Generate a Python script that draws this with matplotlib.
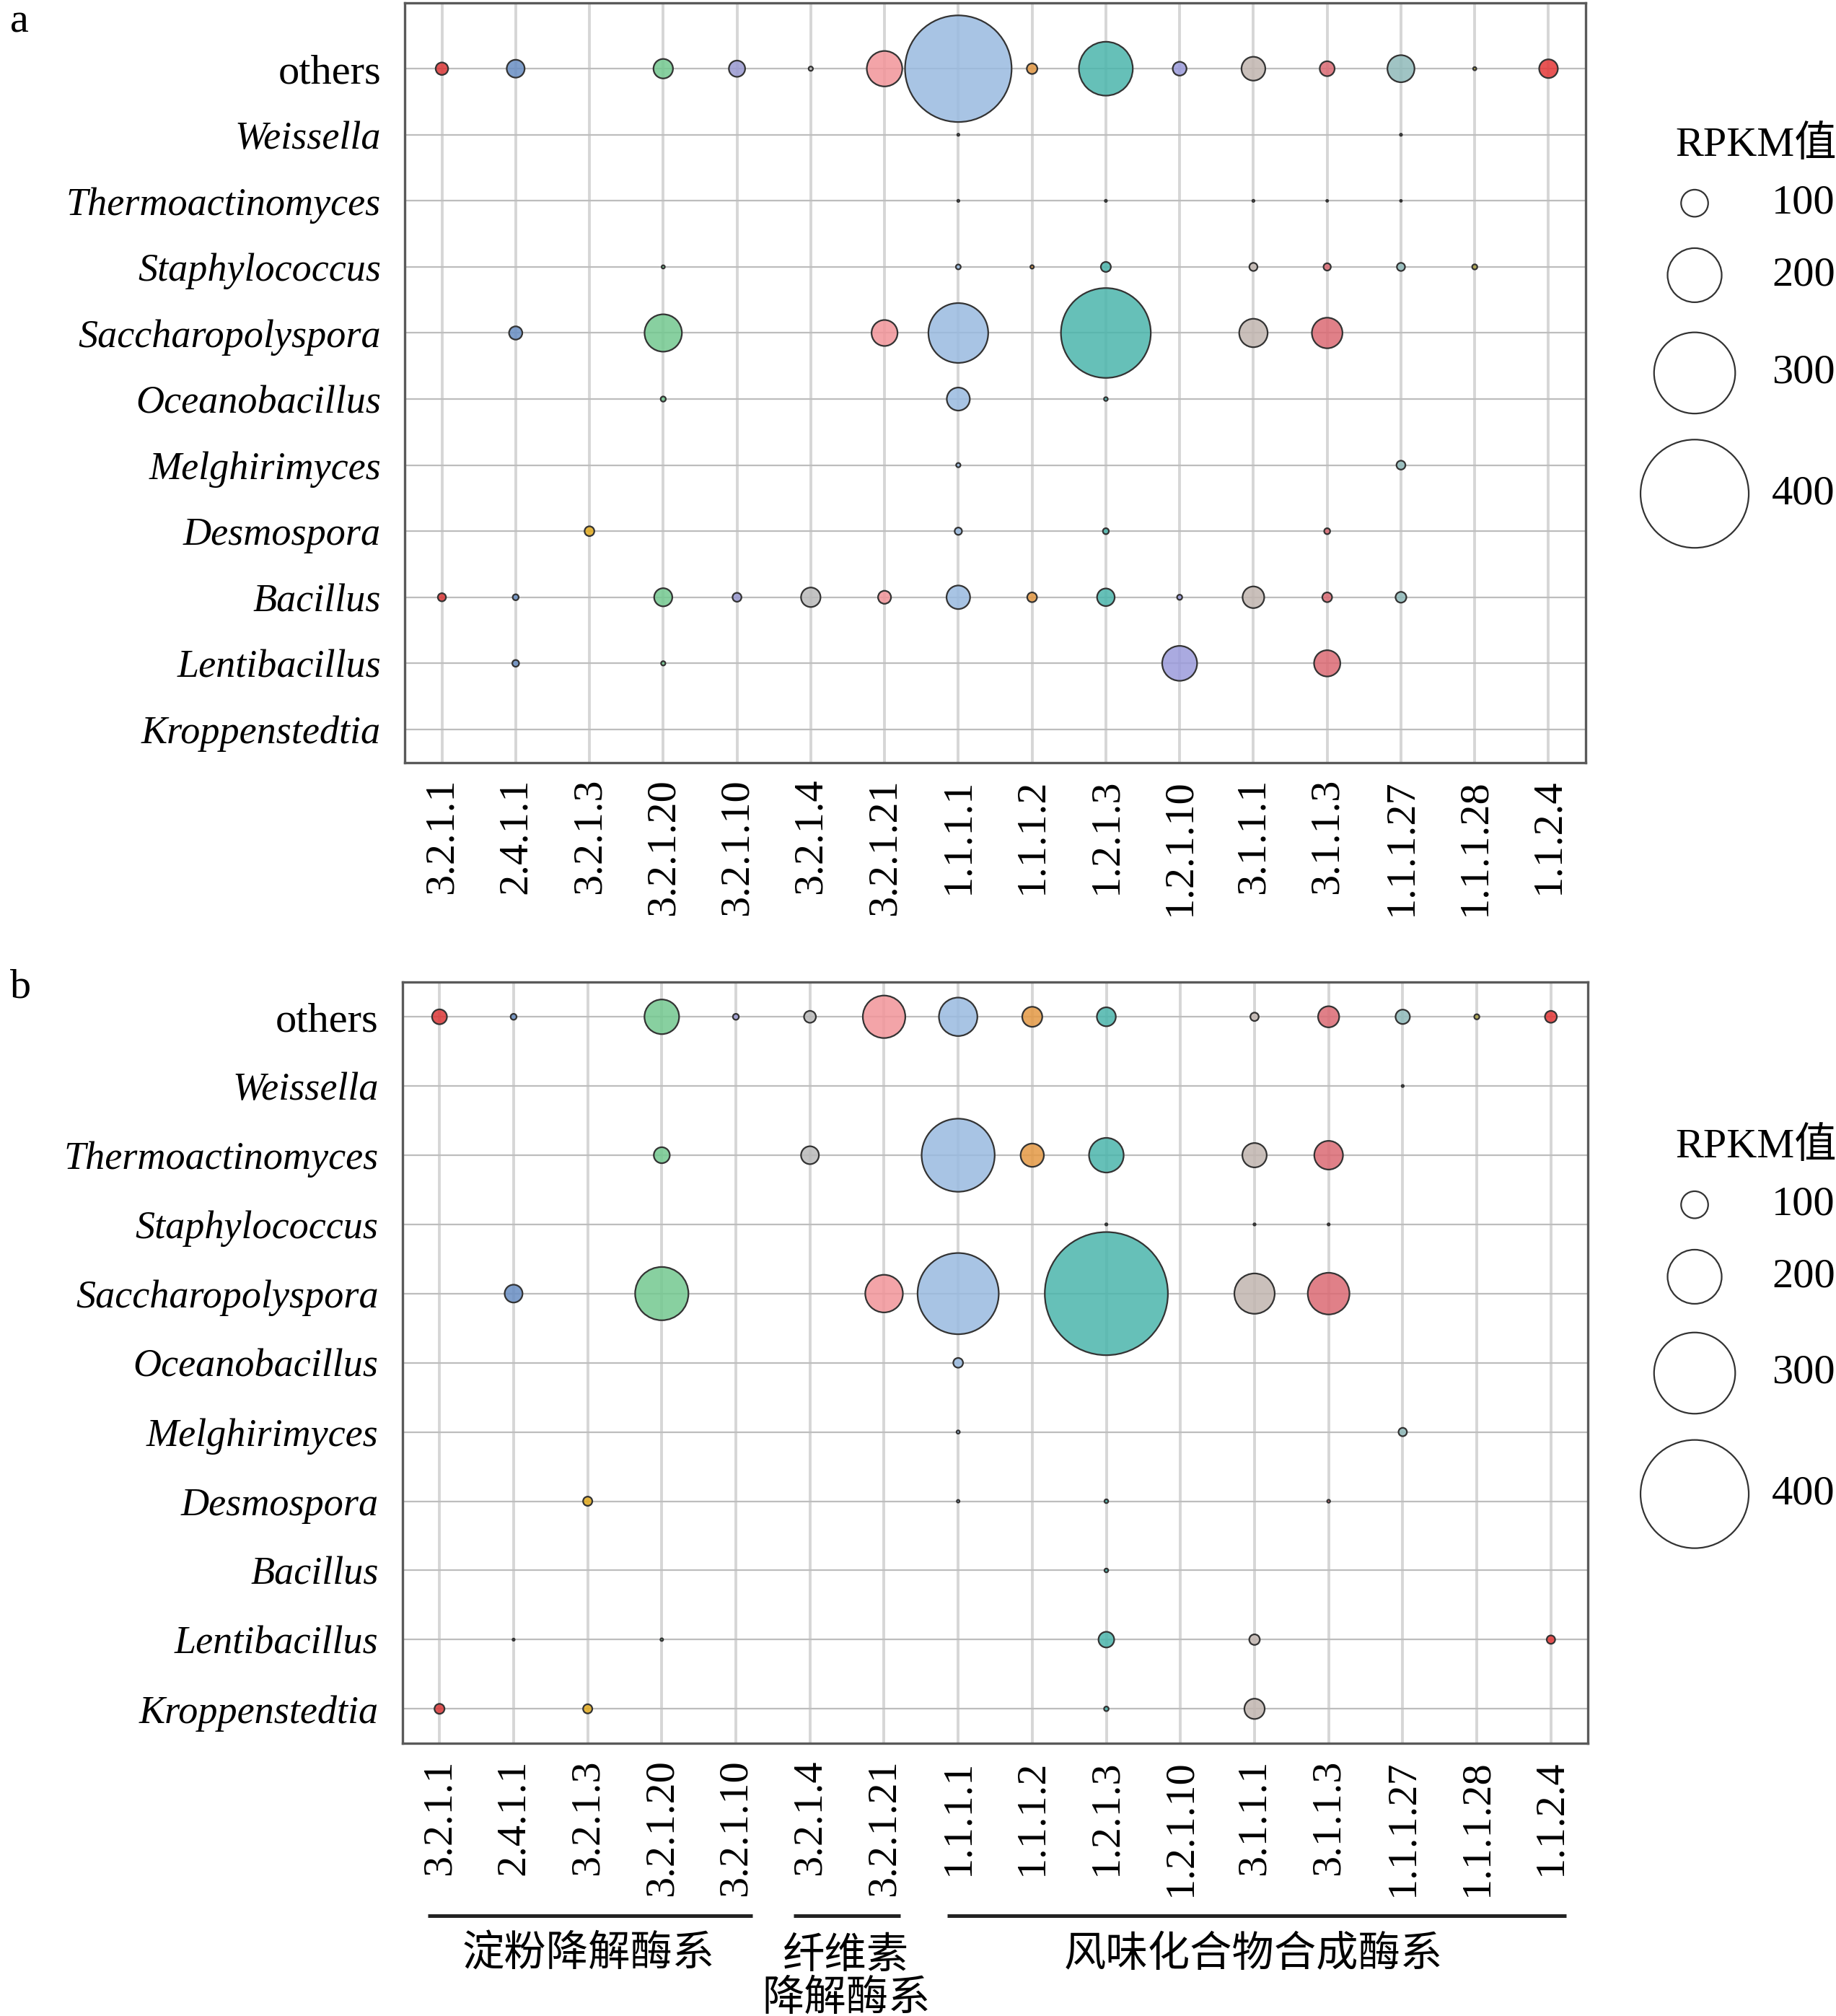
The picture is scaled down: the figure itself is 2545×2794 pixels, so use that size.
import matplotlib.pyplot as plt
import numpy as np
from matplotlib.colors import to_rgba

# ---- DATA -------------------------------------------------------------

genera = [
    "others", "Weissella", "Thermoactinomyces", "Staphylococcus",
    "Saccharopolyspora", "Oceanobacillus", "Melghirimyces", "Desmospora",
    "Bacillus", "Lentibacillus", "Kroppenstedtia",
]

ec_numbers = [
    "3.2.1.1", "2.4.1.1", "3.2.1.3", "3.2.1.20", "3.2.1.10", "3.2.1.4",
    "3.2.1.21", "1.1.1.1", "1.1.1.2", "1.2.1.3", "1.2.1.10", "3.1.1.1",
    "3.1.1.3", "1.1.1.27", "1.1.1.28", "1.1.2.4",
]

ec_colors = [
    "#db3737", "#698ec3", "#e4ac1f", "#73c890", "#9999d1", "#bababa",
    "#f29499", "#99bae0", "#e49944", "#4bb5ac", "#9b9bdb", "#c1b5b0",
    "#db6a73", "#90baba", "#aca244", "#e43737",
]

# RPKM per genus (rows, same order as genera) and EC number (columns)
rpkm_a = [
    [46, 66, 0, 72, 60, 16, 131, 394, 39, 199, 51, 88, 55, 100, 12, 69],
    [0, 0, 0, 0, 0, 0, 0, 8, 0, 0, 0, 0, 0, 8, 0, 0],
    [0, 0, 0, 0, 0, 0, 0, 8, 0, 8, 0, 8, 7, 7, 0, 0],
    [0, 0, 0, 12, 0, 0, 0, 18, 13, 37, 0, 30, 27, 30, 19, 0],
    [0, 49, 0, 138, 0, 0, 96, 221, 0, 332, 0, 105, 113, 0, 0, 0],
    [0, 0, 0, 19, 0, 0, 0, 85, 0, 14, 0, 0, 0, 0, 0, 0],
    [0, 0, 0, 0, 0, 0, 0, 16, 0, 0, 0, 0, 0, 33, 0, 0],
    [0, 0, 36, 0, 0, 0, 0, 27, 0, 22, 0, 0, 22, 0, 0, 0],
    [30, 22, 0, 67, 33, 72, 48, 87, 36, 65, 19, 80, 36, 40, 0, 0],
    [0, 25, 0, 16, 0, 0, 0, 0, 0, 0, 129, 0, 97, 0, 0, 0],
    [0, 0, 0, 0, 0, 0, 0, 0, 0, 0, 0, 0, 0, 0, 0, 0],
]

rpkm_b = [
    [55, 22, 0, 128, 22, 44, 157, 142, 74, 70, 0, 31, 78, 53, 19, 44],
    [0, 0, 0, 0, 0, 0, 0, 0, 0, 0, 0, 0, 0, 8, 0, 0],
    [0, 0, 0, 59, 0, 66, 0, 270, 86, 128, 0, 90, 106, 0, 0, 0],
    [0, 0, 0, 0, 0, 0, 0, 0, 0, 8, 0, 8, 8, 0, 0, 0],
    [0, 66, 0, 197, 0, 0, 139, 300, 0, 455, 0, 149, 154, 0, 0, 0],
    [0, 0, 0, 0, 0, 0, 0, 36, 0, 0, 0, 0, 0, 0, 0, 0],
    [0, 0, 0, 0, 0, 0, 0, 12, 0, 0, 0, 0, 0, 31, 0, 0],
    [0, 0, 34, 0, 0, 0, 0, 10, 0, 14, 0, 0, 11, 0, 0, 0],
    [0, 0, 0, 0, 0, 0, 0, 0, 0, 14, 0, 0, 0, 0, 0, 0],
    [0, 8, 0, 10, 0, 0, 0, 0, 0, 58, 0, 39, 0, 0, 0, 31],
    [37, 0, 34, 0, 0, 0, 0, 0, 0, 17, 0, 75, 0, 0, 0, 0],
]

legend_values = [100, 200, 300, 400]

groups = ["淀粉降解酶系", "纤维素\n降解酶系", "风味化合物合成酶系"]

# ---- STYLE ------------------------------------------------------------

DPI = 200
PX_PER_UNIT = 0.375  # bubble diameter (px) per RPKM unit
SERIF = ["Liberation Serif", "DejaVu Serif"]
MIXED = ["Liberation Serif", "Noto Sans CJK SC"]
CJK = ["Noto Sans CJK SC"]
FS = 21
FS_ITALIC = 19.5


def bubble_size(v):
    d_pt = np.asarray(v, dtype=float) * PX_PER_UNIT * 72 / DPI
    return d_pt ** 2


def draw_panel(ax, values, ytop):
    n_rows = len(genera)
    xs, ys, vs, cs = [], [], [], []
    for i, row in enumerate(values):
        for j, v in enumerate(row):
            if v > 0:
                xs.append(j)
                ys.append(n_rows - 1 - i)
                vs.append(v)
                cs.append(to_rgba(ec_colors[j], 0.85))
    order = np.argsort(vs)[::-1]
    ax.scatter(
        np.array(xs)[order],
        np.array(ys)[order],
        s=bubble_size(np.array(vs)[order]),
        c=[cs[k] for k in order],
        edgecolors="#333333",
        linewidths=0.8,
        zorder=3,
    )

    ax.set_xlim(-0.5, len(ec_numbers) - 0.5)
    ax.set_ylim(-0.5, ytop)
    ax.set_xticks(range(len(ec_numbers)))
    ax.set_xticklabels(ec_numbers, rotation=90, fontsize=FS, family=SERIF)
    ax.set_yticks(range(n_rows))
    ax.set_yticklabels(genera[::-1], fontsize=FS, family=SERIF)
    for lab in ax.get_yticklabels():
        if lab.get_text() != "others":
            lab.set_fontstyle("italic")
            lab.set_fontsize(FS_ITALIC)
    ax.tick_params(axis="x", length=0, pad=8)
    ax.tick_params(axis="y", length=0, pad=12)
    ax.set_axisbelow(True)
    ax.grid(axis="x", color="#d6d6d6", linewidth=1.4)
    ax.grid(axis="y", color="#bdbdbd", linewidth=0.8)
    for sp in ax.spines.values():
        sp.set_color("#5a5a5a")
        sp.set_linewidth(1.2)


def draw_legend(over, title_y, circle_ys):
    over.text(0.9125, title_y, "RPKM值", fontsize=FS, family=MIXED,
              ha="left", va="center")
    over.scatter([0.923] * len(legend_values), circle_ys,
                 s=bubble_size(legend_values), facecolors="none",
                 edgecolors="#333333", linewidths=0.8)
    for v, y in zip(legend_values, circle_ys):
        over.text(0.965, y, str(v), fontsize=FS, family=SERIF,
                  ha="left", va="center")


fig = plt.figure(figsize=(2545 / DPI, 2794 / DPI), dpi=DPI)

ax_a = fig.add_axes([0.2206, 0.6218, 0.6429, 0.3769])
draw_panel(ax_a, rpkm_a, 11.0)

ax_b = fig.add_axes([0.2192, 0.1352, 0.6457, 0.3776])
draw_panel(ax_b, rpkm_b, 10.5)

over = fig.add_axes([0, 0, 1, 1], zorder=5)
over.set_xlim(0, 1)
over.set_ylim(0, 1)
over.axis("off")

over.text(0.0056, 0.9985, "a", fontsize=FS, family=SERIF, ha="left", va="top")
over.text(0.0056, 0.5102, "b", fontsize=FS, family=SERIF, ha="left", va="center")

draw_legend(over, 0.928, [0.8992, 0.8635, 0.8150, 0.7551])
draw_legend(over, 0.4311, [0.4024, 0.3667, 0.3189, 0.2589])

# ---- GROUP BRACKETS ---------------------------------------------------

line_spans = [(0.2332, 0.4097), (0.4321, 0.4902), (0.5161, 0.8529)]
for x0, x1 in line_spans:
    over.plot([x0, x1], [0.0497, 0.0497], color="#222222", linewidth=1.8,
              solid_capstyle="butt")

over.text(0.3207, 0.0306, groups[0], fontsize=FS, family=CJK,
          ha="center", va="center")
over.text(0.4608, 0.0195, groups[1], fontsize=FS, family=CJK,
          ha="center", va="center", linespacing=0.95)
over.text(0.6828, 0.0306, groups[2], fontsize=FS, family=CJK,
          ha="center", va="center")

fig.savefig("out.png", dpi=DPI)
